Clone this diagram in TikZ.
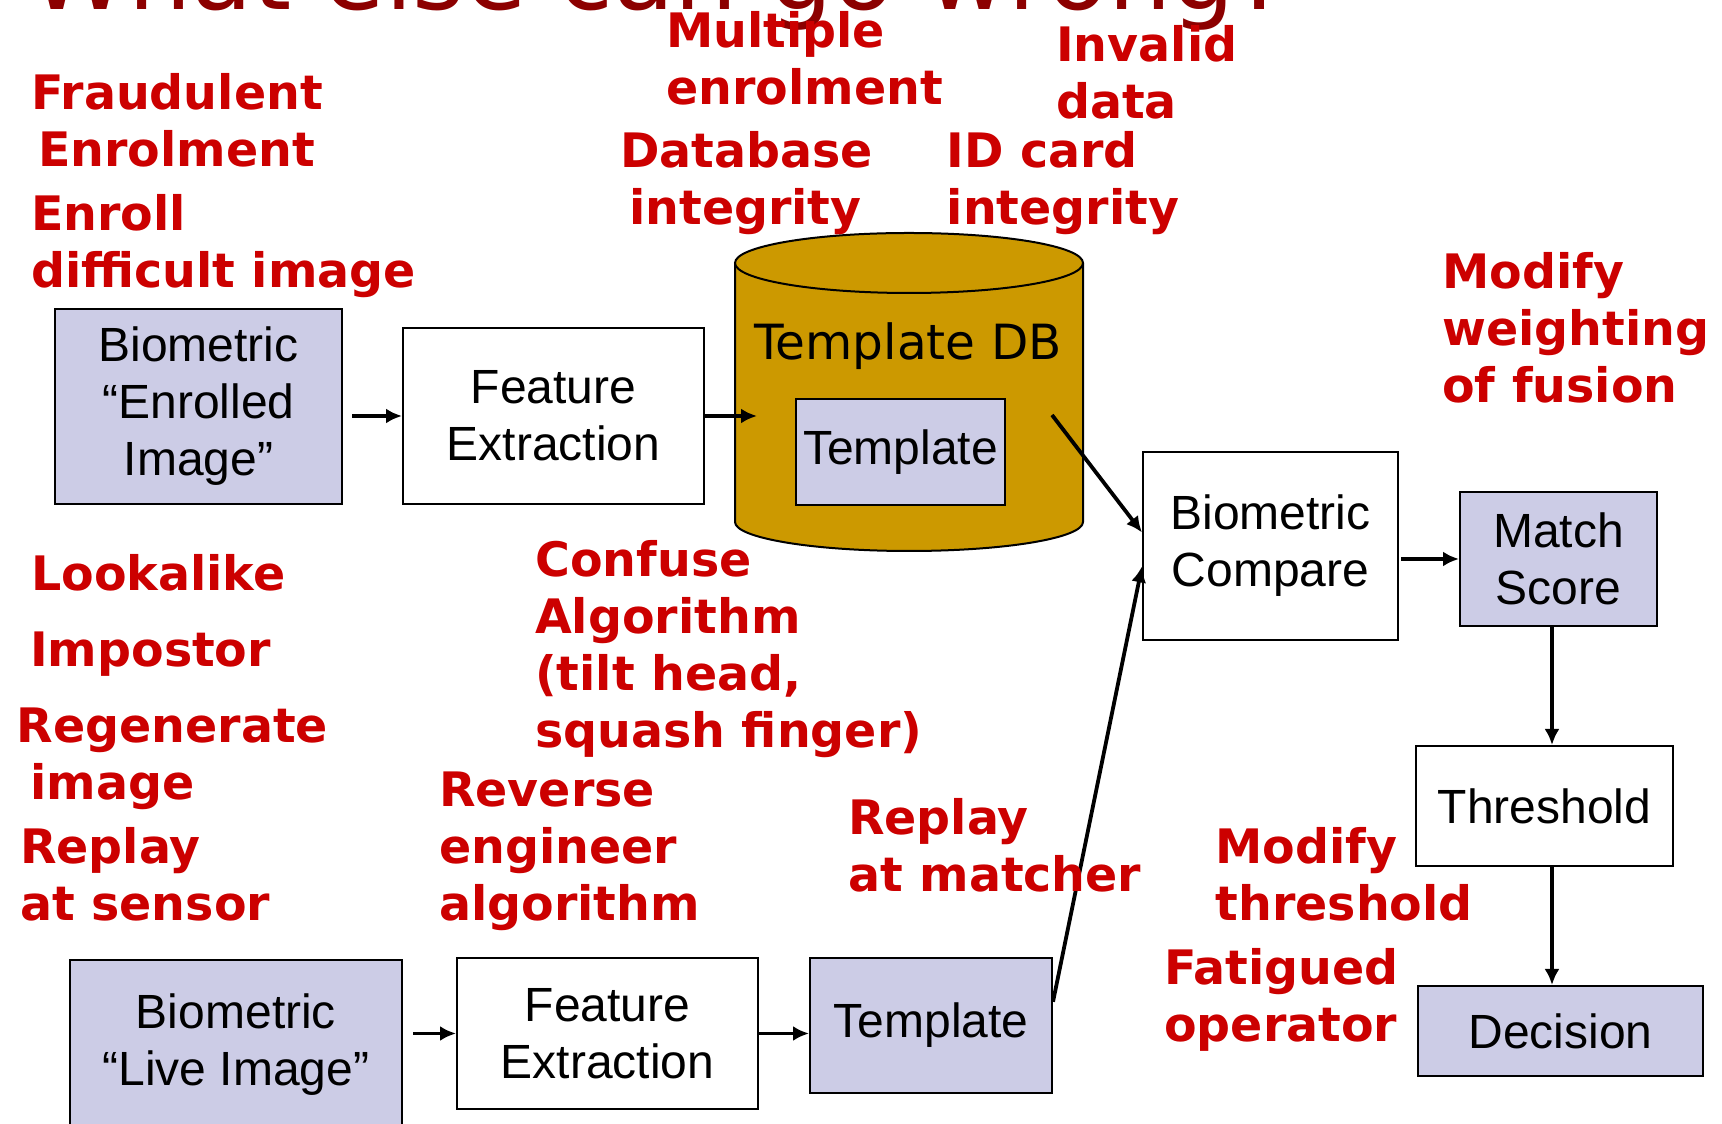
\documentclass[tikz,border=0pt]{standalone}
\usepackage{fontspec}
\setmainfont{Liberation Sans}
\newfontfamily\verdanalike{DejaVu Sans}
\usetikzlibrary{arrows.meta}

\definecolor{threatred}{HTML}{CC0000}
\definecolor{titlered}{HTML}{8C0000}
\definecolor{datablue}{HTML}{CCCCE6}
\definecolor{dbgold}{HTML}{CC9900}

\tikzset{
  box/.style={draw,line width=2pt,align=center,inner sep=0pt,font=\fontsize{48}{57}\selectfont},
  data/.style={box,fill=datablue},
  threat/.style={anchor=base west,align=left,inner sep=0pt,text=threatred,font=\verdanalike\bfseries\fontsize{47.5}{57}\selectfont},
  flow/.style={-{Latex[length=16pt,width=15pt]},line width=3.8pt}
}

\begin{document}
\begin{tikzpicture}[x=1pt,y=1pt]
        \useasboundingbox (0,0) rectangle (1722,1124);

        % title, cut by the top edge
        \node[anchor=base west,inner sep=0pt,text=titlered,font=\verdanalike\fontsize{100}{110}\selectfont] (title) at (29,1114) {What else can go wrong?};

        % template database
        \fill[dbgold] (735,602) rectangle (1083,861);
        \fill[dbgold] (909,602) ellipse[x radius=174,y radius=29];
        \draw[line width=2pt] (735,861) -- (735,602) arc[start angle=180,end angle=360,x radius=174,y radius=29] -- (1083,861);
        \filldraw[fill=dbgold,line width=2pt] (909,861) ellipse[x radius=174,y radius=30];
        \node[anchor=base,inner sep=0pt,font=\verdanalike\fontsize{48.5}{57}\selectfont] (dblabel) at (908,764) {Template DB};
        \node[data,minimum width=209pt,minimum height=106pt] (dbtemplate) at (900.5,672) {Template};
        \coordinate (dbin) at (757,708);
        \coordinate (dbout) at (1052,709);

        % enrolment path
        \node[data,minimum width=287pt,minimum height=195pt] (enrolled) at (198.5,717.5) {Biometric\\“Enrolled\\Image”};
        \node[box,minimum width=301pt,minimum height=176pt] (fetop) at (553.5,708) {Feature\\Extraction};

        % live path
        \node[data,minimum width=332pt,minimum height=170pt] (live) at (236,79) {Biometric\\“Live Image”};
        \node[box,minimum width=301pt,minimum height=151pt] (felow) at (607.5,90.5) {Feature\\Extraction};
        \node[data,minimum width=242pt,minimum height=135pt] (templow) at (931,98.5) {Template};

        % matching
        \node[box,minimum width=255pt,minimum height=188pt] (compare) at (1270.5,578) {Biometric\\Compare};
        \node[data,minimum width=197pt,minimum height=134pt] (match) at (1558.5,565) {Match\\Score};
        \node[box,minimum width=257pt,minimum height=120pt] (threshold) at (1544.5,318) {Threshold};
        \node[data,minimum width=285pt,minimum height=90pt] (decision) at (1560.5,93) {Decision};
        \coordinate (scoreout) at ([xshift=-6.5pt]match.south);

        \draw[flow,shorten <=9pt] (enrolled.east |- fetop.west) -- (fetop.west);
        \draw[flow] (fetop.east) -- (dbin);
        \draw[flow] (dbout) -- (compare.174);
        \draw[flow,shorten <=10pt] (live.east |- felow.west) -- (felow.west);
        \draw[flow] (felow.east) -- (templow.west |- felow.east);
        \draw[flow] (templow.11) -- (compare.189);
        \draw[flow,shorten <=2pt] (compare.east |- match.west) -- (match.west);
        \draw[flow] (scoreout) -- (scoreout |- threshold.north);
        \draw[flow] (threshold.south -| scoreout) -- (decision.north -| scoreout);

        % attacks (placed at the baseline of their last line)
        \node[threat] (fraud) at (31,957) {Fraudulent\\\hspace*{7pt}Enrolment};
        \node[threat] (difficult) at (31,836) {Enroll\\difficult image};
        \node[threat] (multiple) at (666,1019) {Multiple\\enrolment};
        \node[threat] (invalid) at (1056,1005) {Invalid\\data};
        \node[threat] (dbintegrity) at (620,899) {Database\\\hspace*{9pt}integrity};
        \node[threat] (idcard) at (946.5,899) {ID card\\integrity};
        \node[threat] (fusion) at (1442,721) {Modify\\weighting\\of fusion};
        \node[threat] (lookalike) at (31,533) {Lookalike};
        \node[threat] (impostor) at (30,457.5) {Impostor};
        \node[threat] (regenerate) at (16.5,324) {Regenerate\\\hspace*{14pt}image};
        \node[threat] (replaysensor) at (20,203) {Replay\\at sensor};
        \node[threat] (confuse) at (535,376.5) {Confuse\\Algorithm\\(tilt head,\\squash finger)};
        \node[threat] (reverse) at (439,203) {Reverse\\engineer\\algorithm};
        \node[threat] (replaymatcher) at (848,232.5) {Replay\\at matcher};
        \node[threat] (modthreshold) at (1215.5,203) {Modify\\threshold};
        \node[threat] (fatigued) at (1164,82) {Fatigued\\operator};
\end{tikzpicture}
\end{document}
